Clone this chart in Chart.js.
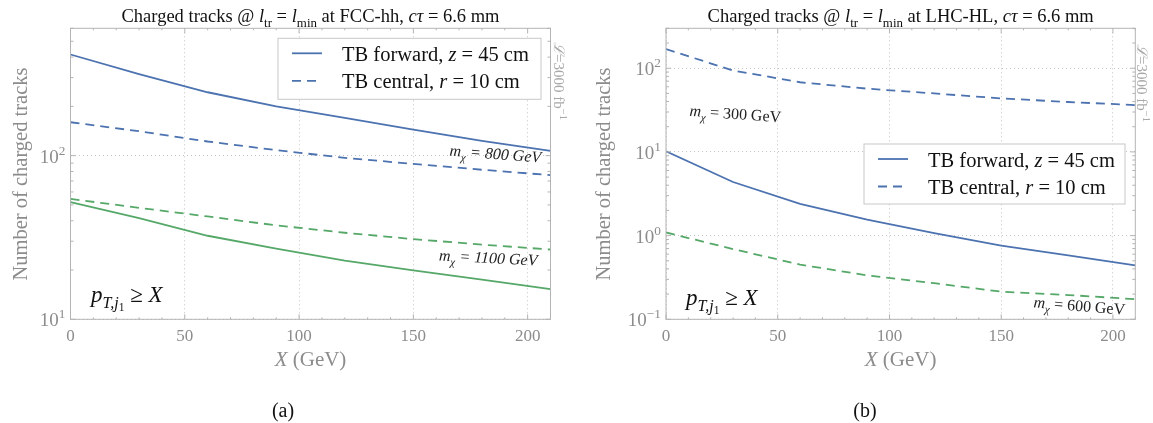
<!DOCTYPE html>
<html>
<head>
<meta charset="utf-8">
<script src="https://cdn.jsdelivr.net/npm/chart.js@4/dist/chart.umd.min.js"></script>
<style>
  html, body { margin: 0; padding: 0; background: #fff; }
  #page { position: relative; width: 1153px; height: 423px; background: #fff; }
  canvas { position: absolute; top: 0; }
</style>
</head>
<body>
<div id="page">
  <canvas id="chart-a" width="576" height="423" style="left:0"></canvas>
  <canvas id="chart-b" width="577" height="423" style="left:576px"></canvas>
</div>
<script>
/* Two log-scale panels: charged-track counts vs leading-jet pT cut. */

// x grid of the scan (GeV)
const xValues = [0, 30, 60, 90, 120, 150, 180, 210];
const xTicks = [0, 50, 100, 150, 200];

// (a) FCC-hh
const fccForward800 = [415, 315, 244, 200, 170, 144, 123, 107];
const fccCentral800 = [160, 141, 122, 108, 97, 89, 82, 76];
const fccCentral1100 = [54.4, 48, 42.5, 37.5, 33.8, 30.9, 28.6, 26.7];
const fccForward1100 = [52, 41.5, 32.4, 27, 22.8, 19.9, 17.5, 15.3];
const yTicksA = [10, 100];

// (b) LHC-HL
const lhcCentral300 = [169, 94, 68, 57, 50, 43.6, 39.5, 36.3];
const lhcForward300 = [10.2, 4.37, 2.4, 1.55, 1.07, 0.76, 0.58, 0.44];
const lhcCentral600 = [1.09, 0.69, 0.45, 0.335, 0.27, 0.214, 0.195, 0.174];
const yTicksB = [0.1, 1, 10, 100];

const SERIF = '"Liberation Serif", "DejaVu Serif", serif';
const GRAY = '#8c8c8c';
const FRAME = '#b4b4b4';
const BLUE = '#4c72b0';
const GREEN = '#55a868';
const DASH = [9, 6];

function pts(ys) { return xValues.map((x, i) => ({ x, y: ys[i] })); }

// --- small rich-text helper (italics, sub/superscripts) ---
function partFont(p, size) {
  let s = size;
  if (p.sub || p.sup) s *= 0.7;
  if (p.ss) s *= 0.5;
  return `${p.it ? 'italic ' : ''}${s}px ${SERIF}`;
}
function partShift(p, size) {
  if (p.sub) return size * 0.28;
  if (p.sup) return -size * 0.42;
  if (p.ss) return size * 0.4;
  return 0;
}
function richWidth(ctx, parts, size) {
  let w = 0;
  for (const p of parts) { ctx.font = partFont(p, size); w += ctx.measureText(p.t).width; }
  return w;
}
function drawRich(ctx, parts, x, y, size, align, color) {
  const w = richWidth(ctx, parts, size);
  let cx = align === 'center' ? x - w / 2 : align === 'right' ? x - w : x;
  ctx.fillStyle = color;
  ctx.textBaseline = 'alphabetic';
  ctx.textAlign = 'left';
  for (const p of parts) {
    ctx.font = partFont(p, size);
    ctx.fillText(p.t, cx, y + partShift(p, size));
    cx += ctx.measureText(p.t).width;
  }
}
function drawRotated(ctx, parts, x, y, angle, size, align, color) {
  ctx.save();
  ctx.translate(x, y);
  ctx.rotate(angle);
  drawRich(ctx, parts, 0, 0, size, align, color);
  ctx.restore();
}

function powLabel(v) {
  const e = Math.round(Math.log10(v));
  return [{ t: '10' }, { t: String(e).replace('-', '\u2212'), sup: true }];
}

// frame, ticks, labels, legend and notes drawn on top of the plot
const panelDecor = {
  id: 'panelDecor',
  afterDraw(chart, args, o) {
    const ctx = chart.ctx, a = chart.chartArea;
    const xs = chart.scales.x, ys = chart.scales.y;
    ctx.save();

    ctx.strokeStyle = FRAME;
    ctx.lineWidth = 1;
    ctx.setLineDash([]);
    ctx.strokeRect(a.left, a.top, a.right - a.left, a.bottom - a.top);

    // y ticks, major + minor, on both sides
    ctx.beginPath();
    const d0 = Math.floor(Math.log10(ys.min)), d1 = Math.ceil(Math.log10(ys.max));
    for (let d = d0; d <= d1; d++) {
      for (let k = 1; k <= 9; k++) {
        const v = k * Math.pow(10, d);
        if (v < ys.min * 0.999 || v > ys.max) continue;
        const py = ys.getPixelForValue(v);
        const len = k === 1 ? 5 : 3;
        ctx.moveTo(a.left, py); ctx.lineTo(a.left + len, py);
        ctx.moveTo(a.right, py); ctx.lineTo(a.right - len, py);
      }
    }
    for (let v = 0; v <= xs.max; v += 10) {
      const px = xs.getPixelForValue(v);
      const len = v % 50 === 0 ? 5 : 2;
      ctx.moveTo(px, a.bottom); ctx.lineTo(px, a.bottom - len);
      ctx.moveTo(px, a.top); ctx.lineTo(px, a.top + len);
    }
    ctx.stroke();

    // tick labels
    for (const v of o.yTicks) {
      drawRich(ctx, powLabel(v), a.left - 5, ys.getPixelForValue(v) + 7, 19, 'right', GRAY);
    }
    for (const v of xTicks) {
      drawRich(ctx, [{ t: String(v) }], xs.getPixelForValue(v), a.bottom + 22, 17, 'center', GRAY);
    }

    const midX = (a.left + a.right) / 2;
    drawRich(ctx, [{ t: 'X', it: true }, { t: ' (GeV)' }], midX, a.bottom + 47, 21, 'center', GRAY);
    drawRotated(ctx, [{ t: 'Number of charged tracks' }], o.yLabelX, 174, -Math.PI / 2, 20.5, 'center', GRAY);
    drawRich(ctx, o.title, midX, a.top - 6, 18.5, 'center', '#111');
    drawRich(ctx, [{ t: o.caption }], o.captionX, 417, 20, 'center', '#111');

    // luminosity note on the right edge
    drawRotated(ctx, [{ t: '\u2112', it: true }, { t: '=3000 fb' }, { t: '\u22121', sup: true }],
      o.lumX, o.lumY, Math.PI / 2, 15, 'center', '#a8a8a8');

    // pT cut label
    drawRich(ctx, [{ t: 'p', it: true }, { t: 'T,j', it: true, sub: true }, { t: '1', ss: true },
      { t: ' \u2265 ' }, { t: 'X', it: true }], o.cutX, o.cutY, 23, 'left', '#111');

    // mass notes
    for (const n of o.notes) {
      drawRotated(ctx, [{ t: 'm', it: true }, { t: '\u03c7', it: true, sub: true },
        { t: ' = ' + n.text, it: n.it }], n.x, n.y, n.angle * Math.PI / 180, 16, 'center', '#222');
    }

    // legend
    const L = o.legend;
    ctx.fillStyle = '#fff';
    ctx.fillRect(L.x, L.y, L.w, L.h);
    ctx.strokeStyle = '#c8c8c8';
    ctx.strokeRect(L.x, L.y, L.w, L.h);
    const rows = [
      { dash: [], parts: [{ t: 'TB forward, ' }, { t: 'z', it: true }, { t: ' = 45 cm' }] },
      { dash: DASH, parts: [{ t: 'TB central, ' }, { t: 'r', it: true }, { t: ' = 10 cm' }] },
    ];
    rows.forEach((r, i) => {
      const ly = L.y + 15 + i * 27.5;
      ctx.strokeStyle = BLUE;
      ctx.lineWidth = 1.8;
      ctx.setLineDash(r.dash);
      ctx.beginPath();
      ctx.moveTo(L.x + 14, ly); ctx.lineTo(L.x + 44, ly);
      ctx.stroke();
      ctx.setLineDash([]);
      drawRich(ctx, r.parts, L.x + 64, ly + 7.5, 20.5, 'left', '#111');
    });

    ctx.restore();
  }
};

function makePanel(canvasId, datasets, yMin, yMax, padding, decor) {
  return new Chart(document.getElementById(canvasId), {
    type: 'line',
    data: { datasets },
    options: {
      responsive: false,
      animation: false,
      devicePixelRatio: 1,
      layout: { padding },
      elements: { point: { radius: 0 }, line: { borderWidth: 1.8, tension: 0 } },
      plugins: { legend: { display: false }, tooltip: { enabled: false }, panelDecor: decor },
      scales: {
        x: {
          type: 'linear', min: 0, max: 210,
          afterBuildTicks: (s) => { s.ticks = xTicks.map((v) => ({ value: v })); },
          ticks: { display: false },
          grid: { color: '#c4c4c4', lineWidth: 1, drawTicks: false },
          border: { display: false, dash: [1, 3] },
        },
        y: {
          type: 'logarithmic', min: yMin, max: yMax,
          afterBuildTicks: (s) => { s.ticks = decor.yTicks.map((v) => ({ value: v })); },
          ticks: { display: false },
          grid: { color: '#c4c4c4', lineWidth: 1, drawTicks: false },
          border: { display: false, dash: [1, 3] },
        },
      },
    },
    plugins: [panelDecor],
  });
}

function series(data, color, dashed) {
  return { data: pts(data), borderColor: color, backgroundColor: color, borderDash: dashed ? DASH : [], fill: false };
}

const titleA = [{ t: 'Charged tracks @ ' }, { t: 'l', it: true }, { t: 'tr', sub: true }, { t: ' = ' },
  { t: 'l', it: true }, { t: 'min', sub: true }, { t: ' at FCC-hh, ' }, { t: 'c\u03c4', it: true }, { t: ' = 6.6 mm' }];
const titleB = titleA.map((p) => (p.t === ' at FCC-hh, ' ? { t: ' at LHC-HL, ' } : p));

makePanel('chart-a', [
  series(fccForward800, BLUE, false),
  series(fccCentral800, BLUE, true),
  series(fccCentral1100, GREEN, true),
  series(fccForward1100, GREEN, false),
], 10, 600, { left: 70.5, right: 25.5, top: 28.3, bottom: 103.7 }, {
  yTicks: yTicksA, title: titleA, caption: '(a)', captionX: 283, yLabelX: 27,
  lumX: 553.5, lumY: 81, cutX: 91, cutY: 302,
  legend: { x: 278, y: 38.3, w: 263, h: 61 },
  notes: [
    { text: '800 GeV', it: true, x: 495, y: 159, angle: 4.3 },
    { text: '1100 GeV', it: true, x: 488, y: 263, angle: 3 },
  ],
});

makePanel('chart-b', [
  series(lhcCentral300, BLUE, true),
  series(lhcForward300, BLUE, false),
  series(lhcCentral600, GREEN, true),
], 0.1, 300, { left: 90, right: 17.7, top: 28.3, bottom: 103.7 }, {
  yTicks: yTicksB, title: titleB, caption: '(b)', captionX: 289, yLabelX: 34,
  lumX: 561, lumY: 83, cutX: 110, cutY: 305,
  legend: { x: 288, y: 144, w: 261, h: 60 },
  notes: [
    { text: '300 GeV', it: false, x: 159, y: 119, angle: 4 },
    { text: '600 GeV', it: false, x: 503, y: 311, angle: 4.7 },
  ],
});
</script>
</body>
</html>
